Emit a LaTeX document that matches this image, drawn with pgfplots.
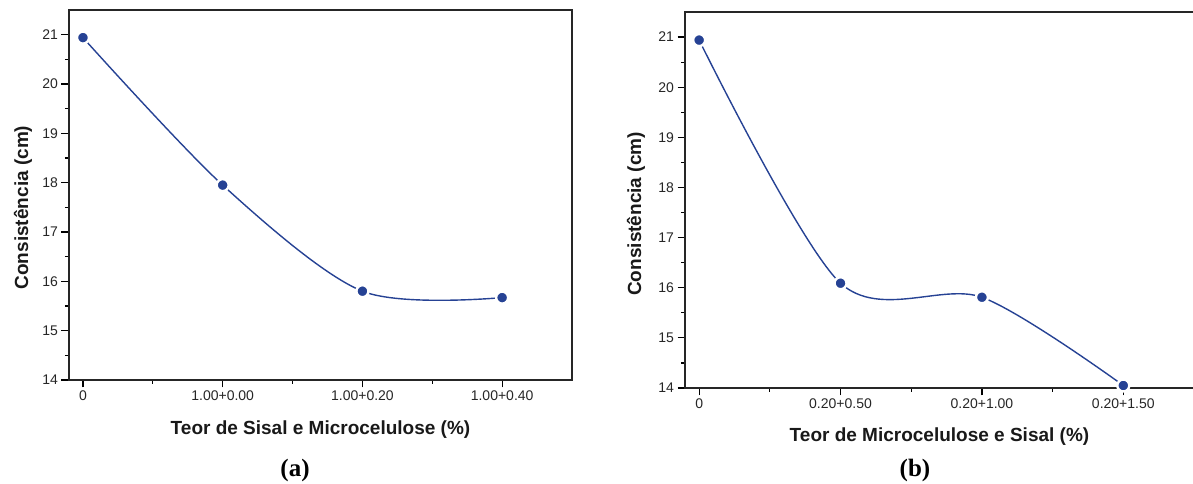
\documentclass[border=0pt]{standalone}
\usepackage{fontspec}
\setmainfont{Liberation Sans}
\newfontfamily\serifb{Liberation Serif}
\usepackage{pgfplots}
\pgfplotsset{compat=1.18}
\definecolor{lineblue}{RGB}{38,66,148}
\newcommand\tickfont{\fontsize{14}{16}\selectfont}
\pgfplotsset{
  panel/.style={
    scale only axis,
    font=\tickfont,
    xmin=-0.1, xmax=3.5, ymin=14, ymax=21.5,
    xtick={0,1,2,3},
    ytick={14,15,16,17,18,19,20,21},
    minor x tick num=1, minor y tick num=1,
    tick align=outside,
    xtick pos=left, ytick pos=left,
    major tick length=7.5pt, minor tick length=4pt,
    every tick/.style={black, line width=1.2pt},
    axis line style={line width=1.6pt, black!85},
    /pgf/number format/assume math mode=true,
    tick label style={font=\tickfont, text=black!85},
    label style={font=\fontsize{19}{22}\selectfont\bfseries, text=black!90},
    clip=false,
  },
  dataline/.style={
    lineblue, line width=1.4pt, smooth, tension=0.5,
    mark=*, mark size=6pt,
    mark options={fill=lineblue, draw=white, line width=2.4pt},
  },
}
\begin{document}
\begin{tikzpicture}[x=1pt,y=1pt]
\useasboundingbox (0,0) rectangle (1193,484);
% ---- panel (a)
\begin{axis}[panel,
  at={(69pt,104pt)}, anchor=south west,
  width=503pt, height=370pt,
  xticklabels={0,1.00+0.00,1.00+0.20,1.00+0.40},
  xlabel={Teor de Sisal e Microcelulose (\%)},
  ylabel={Consistência (cm)},
  xlabel style={at={(axis description cs:0.5,-0.1486)}, anchor=base, inner sep=0pt},
  ylabel style={at={(axis description cs:-0.0915,0.466)}, anchor=center, inner sep=0pt},
]
\addplot[dataline] coordinates {(0,20.94) (1,17.95) (2,15.80) (3,15.67)};
\end{axis}
% ---- panel (b)
\begin{axis}[panel,
  at={(685pt,96pt)}, anchor=south west,
  width=509pt, height=376pt,
  xticklabels={0,0.20+0.50,0.20+1.00,0.20+1.50},
  xlabel={Teor de Microcelulose e Sisal (\%)},
  ylabel={Consistência (cm)},
  xlabel style={at={(axis description cs:0.5,-0.1436)}, anchor=base, inner sep=0pt},
  ylabel style={at={(axis description cs:-0.0963,0.463)}, anchor=center, inner sep=0pt},
]
\addplot[dataline] coordinates {(0,20.94) (1,16.09) (2,15.81) (3,14.05)};
\end{axis}
\node[anchor=base, inner sep=0pt, font=\serifb\bfseries\fontsize{25}{28}\selectfont] at (295,7) {(a)};
\node[anchor=base, inner sep=0pt, font=\serifb\bfseries\fontsize{25}{28}\selectfont] at (915,7) {(b)};
\end{tikzpicture}
\end{document}
